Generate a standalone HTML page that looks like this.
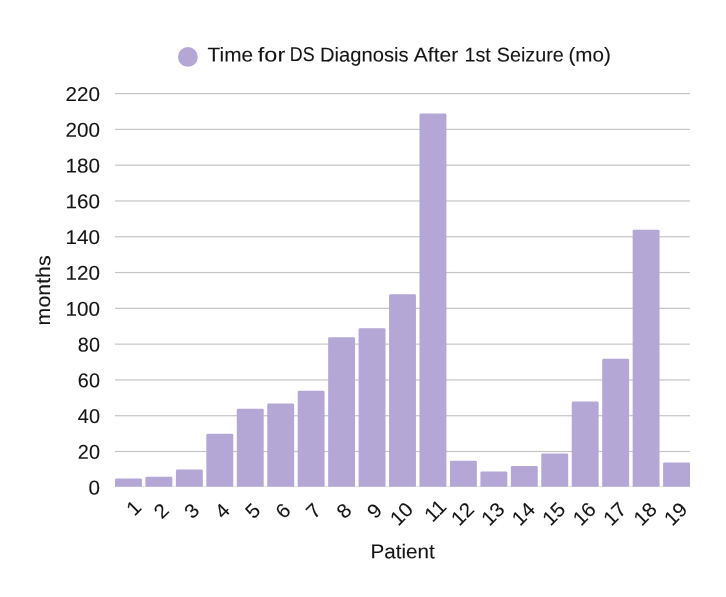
<!DOCTYPE html>
<html><head><meta charset="utf-8"><title>Chart</title>
<style>
html,body{margin:0;padding:0;background:#fff;}
svg{display:block;}
text{text-rendering:geometricPrecision;font-family:"Liberation Sans",sans-serif;font-size:20.0px;fill:#141414;stroke:#141414;stroke-width:0.1px;}
</style></head><body>
<svg width="726" height="597" viewBox="0 0 726 597">
<rect width="726" height="597" fill="#ffffff"/>

<rect x="115.0" y="486.10" width="575.0" height="0.7" fill="#dddddd"/>
<rect x="115.0" y="450.91" width="575.0" height="1.2" fill="#c5c5c5"/>
<rect x="115.0" y="415.12" width="575.0" height="1.2" fill="#c5c5c5"/>
<rect x="115.0" y="379.33" width="575.0" height="1.2" fill="#c5c5c5"/>
<rect x="115.0" y="343.54" width="575.0" height="1.2" fill="#c5c5c5"/>
<rect x="115.0" y="307.75" width="575.0" height="1.2" fill="#c5c5c5"/>
<rect x="115.0" y="271.95" width="575.0" height="1.2" fill="#c5c5c5"/>
<rect x="115.0" y="236.16" width="575.0" height="1.2" fill="#c5c5c5"/>
<rect x="115.0" y="200.37" width="575.0" height="1.2" fill="#c5c5c5"/>
<rect x="115.0" y="164.58" width="575.0" height="1.2" fill="#c5c5c5"/>
<rect x="115.0" y="128.79" width="575.0" height="1.2" fill="#c5c5c5"/>
<rect x="115.0" y="93.00" width="575.0" height="1.2" fill="#c5c5c5"/>
<path d="M115.00 486.70 V479.95 Q115.00 478.55 116.40 478.55 H140.50 Q141.90 478.55 141.90 479.95 V486.70 Z" fill="#b4a7d6"/>
<path d="M145.45 486.70 V478.16 Q145.45 476.76 146.85 476.76 H170.95 Q172.35 476.76 172.35 478.16 V486.70 Z" fill="#b4a7d6"/>
<path d="M175.90 486.70 V471.00 Q175.90 469.60 177.30 469.60 H201.40 Q202.80 469.60 202.80 471.00 V486.70 Z" fill="#b4a7d6"/>
<path d="M206.35 486.70 V435.21 Q206.35 433.81 207.75 433.81 H231.85 Q233.25 433.81 233.25 435.21 V486.70 Z" fill="#b4a7d6"/>
<path d="M236.80 486.70 V410.16 Q236.80 408.76 238.20 408.76 H262.30 Q263.70 408.76 263.70 410.16 V486.70 Z" fill="#b4a7d6"/>
<path d="M267.25 486.70 V404.79 Q267.25 403.39 268.65 403.39 H292.75 Q294.15 403.39 294.15 404.79 V486.70 Z" fill="#b4a7d6"/>
<path d="M297.70 486.70 V392.26 Q297.70 390.86 299.10 390.86 H323.20 Q324.60 390.86 324.60 392.26 V486.70 Z" fill="#b4a7d6"/>
<path d="M328.15 486.70 V338.58 Q328.15 337.18 329.55 337.18 H353.65 Q355.05 337.18 355.05 338.58 V486.70 Z" fill="#b4a7d6"/>
<path d="M358.60 486.70 V329.63 Q358.60 328.23 360.00 328.23 H384.10 Q385.50 328.23 385.50 329.63 V486.70 Z" fill="#b4a7d6"/>
<path d="M389.05 486.70 V295.63 Q389.05 294.23 390.45 294.23 H414.55 Q415.95 294.23 415.95 295.63 V486.70 Z" fill="#b4a7d6"/>
<path d="M419.50 486.70 V114.89 Q419.50 113.48 420.90 113.48 H445.00 Q446.40 113.48 446.40 114.89 V486.70 Z" fill="#b4a7d6"/>
<path d="M449.95 486.70 V462.06 Q449.95 460.66 451.35 460.66 H475.45 Q476.85 460.66 476.85 462.06 V486.70 Z" fill="#b4a7d6"/>
<path d="M480.40 486.70 V472.79 Q480.40 471.39 481.80 471.39 H505.90 Q507.30 471.39 507.30 472.79 V486.70 Z" fill="#b4a7d6"/>
<path d="M510.85 486.70 V467.43 Q510.85 466.03 512.25 466.03 H536.35 Q537.75 466.03 537.75 467.43 V486.70 Z" fill="#b4a7d6"/>
<path d="M541.30 486.70 V454.90 Q541.30 453.50 542.70 453.50 H566.80 Q568.20 453.50 568.20 454.90 V486.70 Z" fill="#b4a7d6"/>
<path d="M571.75 486.70 V403.00 Q571.75 401.60 573.15 401.60 H597.25 Q598.65 401.60 598.65 403.00 V486.70 Z" fill="#b4a7d6"/>
<path d="M602.20 486.70 V360.05 Q602.20 358.65 603.60 358.65 H627.70 Q629.10 358.65 629.10 360.05 V486.70 Z" fill="#b4a7d6"/>
<path d="M632.65 486.70 V231.21 Q632.65 229.81 634.05 229.81 H658.15 Q659.55 229.81 659.55 231.21 V486.70 Z" fill="#b4a7d6"/>
<path d="M663.10 486.70 V463.85 Q663.10 462.45 664.50 462.45 H688.60 Q690.00 462.45 690.00 463.85 V486.70 Z" fill="#b4a7d6"/>
<text transform="translate(88.54 494.60) skewY(0.03)" textLength="11.51" lengthAdjust="spacingAndGlyphs">0</text>
<text transform="translate(77.84 458.81) skewY(0.03)" textLength="22.10" lengthAdjust="spacingAndGlyphs">20</text>
<text transform="translate(77.84 423.02) skewY(0.03)" textLength="22.10" lengthAdjust="spacingAndGlyphs">40</text>
<text transform="translate(77.84 387.23) skewY(0.03)" textLength="22.10" lengthAdjust="spacingAndGlyphs">60</text>
<text transform="translate(77.84 351.44) skewY(0.03)" textLength="22.10" lengthAdjust="spacingAndGlyphs">80</text>
<text transform="translate(65.47 315.65) skewY(0.03)" textLength="34.53" lengthAdjust="spacingAndGlyphs">100</text>
<text transform="translate(65.47 279.85) skewY(0.03)" textLength="34.53" lengthAdjust="spacingAndGlyphs">120</text>
<text transform="translate(65.47 244.06) skewY(0.03)" textLength="34.53" lengthAdjust="spacingAndGlyphs">140</text>
<text transform="translate(65.47 208.27) skewY(0.03)" textLength="34.53" lengthAdjust="spacingAndGlyphs">160</text>
<text transform="translate(65.47 172.48) skewY(0.03)" textLength="34.53" lengthAdjust="spacingAndGlyphs">180</text>
<text transform="translate(65.47 136.69) skewY(0.03)" textLength="34.53" lengthAdjust="spacingAndGlyphs">200</text>
<text transform="translate(65.47 100.90) skewY(0.03)" textLength="34.53" lengthAdjust="spacingAndGlyphs">220</text>
<text transform="translate(142.51 508.74) rotate(-45)" x="-11.51" y="0" textLength="11.51" lengthAdjust="spacingAndGlyphs">1</text>
<text transform="translate(170.20 511.50) rotate(-45)" x="-11.51" y="0" textLength="11.51" lengthAdjust="spacingAndGlyphs">2</text>
<text transform="translate(200.65 511.50) rotate(-45)" x="-11.51" y="0" textLength="11.51" lengthAdjust="spacingAndGlyphs">3</text>
<text transform="translate(231.10 511.50) rotate(-45)" x="-11.51" y="0" textLength="11.51" lengthAdjust="spacingAndGlyphs">4</text>
<text transform="translate(261.55 511.50) rotate(-45)" x="-11.51" y="0" textLength="11.51" lengthAdjust="spacingAndGlyphs">5</text>
<text transform="translate(292.00 511.50) rotate(-45)" x="-11.51" y="0" textLength="11.51" lengthAdjust="spacingAndGlyphs">6</text>
<text transform="translate(322.45 511.50) rotate(-45)" x="-11.51" y="0" textLength="11.51" lengthAdjust="spacingAndGlyphs">7</text>
<text transform="translate(352.90 511.50) rotate(-45)" x="-11.51" y="0" textLength="11.51" lengthAdjust="spacingAndGlyphs">8</text>
<text transform="translate(383.35 511.50) rotate(-45)" x="-11.51" y="0" textLength="11.51" lengthAdjust="spacingAndGlyphs">9</text>
<text transform="translate(414.50 510.60) rotate(-45)" x="-23.02" y="0" textLength="23.02" lengthAdjust="spacingAndGlyphs">10</text>
<text transform="translate(447.71 507.84) rotate(-45)" x="-21.49" y="0" textLength="21.49" lengthAdjust="spacingAndGlyphs">11</text>
<text transform="translate(475.40 510.60) rotate(-45)" x="-23.02" y="0" textLength="23.02" lengthAdjust="spacingAndGlyphs">12</text>
<text transform="translate(505.85 510.60) rotate(-45)" x="-23.02" y="0" textLength="23.02" lengthAdjust="spacingAndGlyphs">13</text>
<text transform="translate(536.30 510.60) rotate(-45)" x="-23.02" y="0" textLength="23.02" lengthAdjust="spacingAndGlyphs">14</text>
<text transform="translate(566.75 510.60) rotate(-45)" x="-23.02" y="0" textLength="23.02" lengthAdjust="spacingAndGlyphs">15</text>
<text transform="translate(597.20 510.60) rotate(-45)" x="-23.02" y="0" textLength="23.02" lengthAdjust="spacingAndGlyphs">16</text>
<text transform="translate(627.65 510.60) rotate(-45)" x="-23.02" y="0" textLength="23.02" lengthAdjust="spacingAndGlyphs">17</text>
<text transform="translate(658.10 510.60) rotate(-45)" x="-23.02" y="0" textLength="23.02" lengthAdjust="spacingAndGlyphs">18</text>
<text transform="translate(688.55 510.60) rotate(-45)" x="-23.02" y="0" textLength="23.02" lengthAdjust="spacingAndGlyphs">19</text>
<circle cx="187.9" cy="56.9" r="9.9" fill="#b4a7d6"/>
<text transform="translate(207.58 61.40) skewY(0.03)" textLength="45.46" lengthAdjust="spacingAndGlyphs">Time</text>
<text transform="translate(257.85 61.40) skewY(0.03)" textLength="27.35" lengthAdjust="spacingAndGlyphs">for</text>
<text transform="translate(289.77 61.40) skewY(0.03)" textLength="24.82" lengthAdjust="spacingAndGlyphs">DS</text>
<text transform="translate(319.99 61.40) skewY(0.03)" textLength="88.54" lengthAdjust="spacingAndGlyphs">Diagnosis</text>
<text transform="translate(413.79 61.40) skewY(0.03)" textLength="44.36" lengthAdjust="spacingAndGlyphs">After</text>
<text transform="translate(464.42 61.40) skewY(0.03)" textLength="26.36" lengthAdjust="spacingAndGlyphs">1st</text>
<text transform="translate(496.71 61.40) skewY(0.03)" textLength="67.09" lengthAdjust="spacingAndGlyphs">Seizure</text>
<text transform="translate(568.46 61.40) skewY(0.03)" textLength="42.38" lengthAdjust="spacingAndGlyphs">(mo)</text>
<text transform="translate(370.55 558.30) skewY(0.03)" textLength="64.22" lengthAdjust="spacingAndGlyphs">Patient</text>
<text transform="translate(50.1 325.39) rotate(-90) skewY(0.03)" x="0" y="0" textLength="70.03" lengthAdjust="spacingAndGlyphs">months</text>
</svg></body></html>
